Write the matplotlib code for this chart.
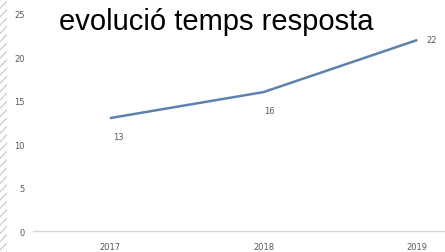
import matplotlib.pyplot as plt
from matplotlib.patches import Rectangle

years = ["2017", "2018", "2019"]
values = [13, 16, 22]
y_ticks = [0, 5, 10, 15, 20, 25]

LINE = "#5d82ad"
GRAY = "#595959"

fig = plt.figure(figsize=(4.45, 2.53), dpi=100, facecolor="white")
ax = fig.add_axes([0.074, 0.083, 0.926, 0.858])

x = list(range(len(years)))
ax.plot(x, values, color=LINE, linewidth=1.8, solid_capstyle="butt")

# data labels
ax.annotate(str(values[0]), (x[0], values[0]), xytext=(6, -13), textcoords="offset points",
            ha="center", va="center", fontsize=6, color=GRAY)
ax.annotate(str(values[1]), (x[1], values[1]), xytext=(4, -13), textcoords="offset points",
            ha="center", va="center", fontsize=6, color=GRAY)
ax.annotate(str(values[2]), (x[2], values[2]), xytext=(10, 0), textcoords="offset points",
            ha="center", va="center", fontsize=6, color=GRAY)

ax.set_xlim(-0.5, 2.18)
ax.set_ylim(0, 25)
ax.set_xticks(x)
ax.set_xticklabels(years)
ax.set_yticks(y_ticks)
ax.tick_params(length=0, labelsize=6, labelcolor=GRAY)
ax.tick_params(axis="y", pad=6)
ax.tick_params(axis="x", pad=8)
for side in ["top", "right", "left"]:
    ax.spines[side].set_visible(False)
ax.spines["bottom"].set_color("#d9d9d9")
ax.spines["bottom"].set_linewidth(1)
ax.set_facecolor("none")

fig.text(0.485, 0.912, "evolució temps resposta", ha="center", va="center",
         fontsize=21, color="black", family="Liberation Sans")

# hatched strip on the left edge
strip = Rectangle((0, 0), 0.016, 1, transform=fig.transFigure, facecolor="white",
                  edgecolor="#d0d0d0", hatch="////", linewidth=0)
fig.patches.append(strip)

fig.savefig("out.png", dpi=100, facecolor="white")
